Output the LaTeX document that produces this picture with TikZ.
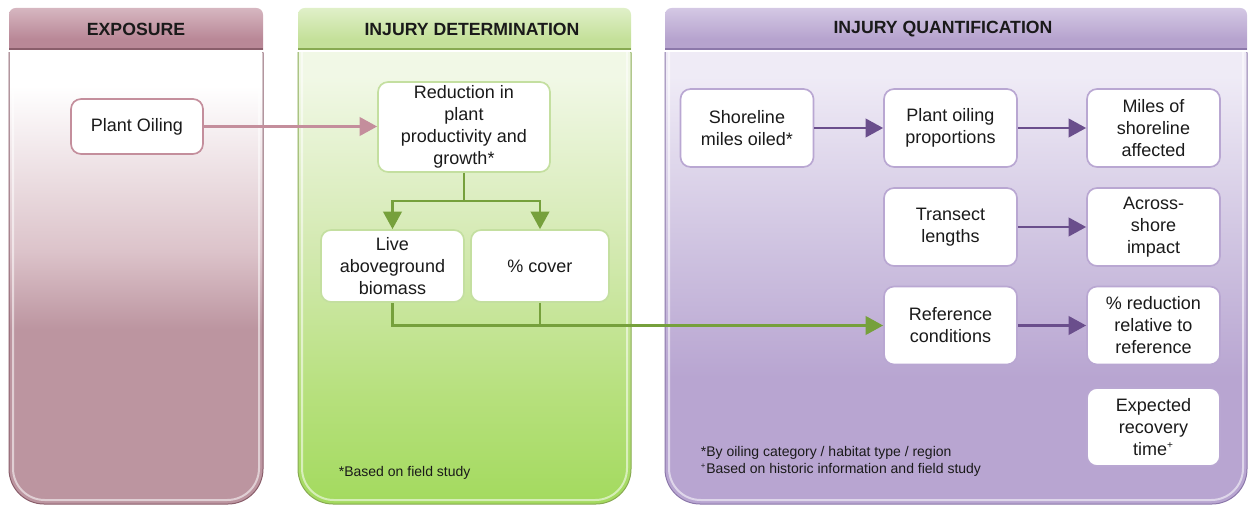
\documentclass[tikz,border=0pt]{standalone}
\usepackage{fontspec}
\setmainfont{Liberation Sans}
\usetikzlibrary{arrows.meta}
% colours
\definecolor{exHead}{HTML}{B98897}
\definecolor{exHeadTop}{HTML}{D6B6C0}
\definecolor{exEdge}{HTML}{8A5E6B}
\definecolor{exBot}{HTML}{BC95A0}
\definecolor{exMid}{HTML}{DCC3CA}
\definecolor{exLine}{HTML}{C48E9C}
\definecolor{gnHead}{HTML}{C4E09A}
\definecolor{gnHeadTop}{HTML}{E0F0C8}
\definecolor{gnEdge}{HTML}{88AA52}
\definecolor{gnTop}{HTML}{F1F8E6}
\definecolor{gnMid}{HTML}{D3E9B0}
\definecolor{gnLow}{HTML}{B6E07C}
\definecolor{gnBot}{HTML}{A3DA5E}
\definecolor{gnBox}{HTML}{C4DFA0}
\definecolor{gnArrow}{HTML}{76A03C}
\definecolor{puHead}{HTML}{B6A3CE}
\definecolor{puHeadTop}{HTML}{D4C8E4}
\definecolor{puEdge}{HTML}{8C78AA}
\definecolor{puTop}{HTML}{EFEBF6}
\definecolor{puMid}{HTML}{CEC2E0}
\definecolor{puBot}{HTML}{B8A5D1}
\definecolor{puBox}{HTML}{B9A7D2}
\definecolor{puArrow}{HTML}{6A4E8C}
\definecolor{txt}{HTML}{1A1A1A}
\pgfdeclareverticalshading{exshade}{100bp}{color(0bp)=(exBot); color(43bp)=(exBot); color(51bp)=(exMid); color(68bp)=(white); color(100bp)=(white)}
\pgfdeclareverticalshading{gnshade}{100bp}{color(0bp)=(gnBot); color(25bp)=(gnBot); color(36bp)=(gnLow); color(51bp)=(gnMid); color(69bp)=(gnTop); color(100bp)=(gnTop)}
\pgfdeclareverticalshading{pushade}{100bp}{color(0bp)=(puBot); color(38bp)=(puBot); color(51bp)=(puMid); color(69bp)=(puTop); color(100bp)=(puTop)}
\begin{document}
\begin{tikzpicture}[x=0.6pt,y=-0.6pt,
  box/.style={draw, fill=white, rounded corners=6pt, line width=1pt, align=center,
    inner sep=1pt, text=txt, font=\fontsize{10.8}{13.2}\selectfont},
  exbox/.style={box, draw=exLine},
  gnbox/.style={box, draw=gnBox},
  pubox/.style={box, draw=puBox, minimum width=79.8pt, minimum height=46.8pt},
  hdr/.style={text=txt, font=\bfseries\fontsize{10.6}{12}\selectfont},
  note/.style={anchor=west, align=left, text=txt, font=\fontsize{8.4}{10.2}\selectfont},
  conn/.style={line width=1.7pt},
  arr/.style={conn, -{Triangle[length=10.5pt,width=11pt]}},
  glint/.style={white, opacity=0.55, line width=1.2pt, rounded corners=19pt}
]
\useasboundingbox (0,0) rectangle (1250,505);

% ---------- panels ----------
% Exposure
\begin{scope}
  \clip (9,8) rectangle (263,50);
  \shade[top color=exHeadTop, bottom color=exHead, middle color=exHead, rounded corners=4pt] (9,8) rectangle (263,70);
\end{scope}
\draw[exEdge, line width=1.4pt] (9,48.8) -- (263,48.8);
\begin{scope}
  \clip (0,53) rectangle (1250,505);
  \shadedraw[shading=exshade, draw=exEdge, line width=0.6pt, rounded corners=21pt] (9,18) rectangle (263,504);
  \draw[glint] (13,18) rectangle (259,500);
\end{scope}
\node[hdr] (hex) at (136,29) {EXPOSURE};

% Injury determination
\begin{scope}
  \clip (298,8) rectangle (631,50);
  \shade[top color=gnHeadTop, bottom color=gnHead, middle color=gnHead, rounded corners=4pt] (298,8) rectangle (631,70);
\end{scope}
\draw[gnEdge, line width=1.4pt] (298,48.8) -- (631,48.8);
\begin{scope}
  \clip (0,53) rectangle (1250,505);
  \shadedraw[shading=gnshade, draw=gnEdge, line width=0.6pt, rounded corners=21pt] (298,18) rectangle (631,504);
  \draw[glint] (302,18) rectangle (627,500);
\end{scope}
\node[hdr] (hgn) at (472,29) {INJURY DETERMINATION};

% Injury quantification
\begin{scope}
  \clip (665,8) rectangle (1247,50);
  \shade[top color=puHeadTop, bottom color=puHead, middle color=puHead, rounded corners=4pt] (665,8) rectangle (1247,70);
\end{scope}
\draw[puEdge, line width=1.4pt] (665,48.8) -- (1247,48.8);
\begin{scope}
  \clip (0,53) rectangle (1250,505);
  \shadedraw[shading=pushade, draw=puEdge, line width=0.6pt, rounded corners=21pt] (665,18) rectangle (1247,504);
  \draw[glint] (669,18) rectangle (1243,500);
\end{scope}
\node[hdr] (hpu) at (943,29) {INJURY QUANTIFICATION};

% ---------- boxes ----------
\node[exbox, minimum width=79.2pt, minimum height=33pt] (oil) at (137,126.5) {Plant Oiling};

\node[gnbox, minimum width=103.2pt, minimum height=54pt] (red) at (464,127)
  {Reduction in\\plant\\productivity and\\growth*};
\node[gnbox, minimum width=85.8pt, minimum height=43.2pt] (live) at (392.5,266)
  {Live\\aboveground\\biomass};
\node[gnbox, minimum width=82.8pt, minimum height=43.2pt] (cover) at (540,266) {\% cover};

\node[pubox] (shore) at (747,128) {Shoreline\\miles oiled*};
\node[pubox] (prop) at (950.5,128) {Plant oiling\\proportions};
\node[pubox] (miles) at (1153.5,128) {Miles of\\shoreline\\affected};
\node[pubox] (trans) at (950.5,227) {Transect\\lengths};
\node[pubox] (across) at (1153.5,227) {Across-\\shore\\impact};
\node[pubox] (ref) at (950.5,325.5) {Reference\\conditions};
\node[pubox] (pct) at (1153.5,325.5) {\% reduction\\relative to\\reference};
\node[pubox] (exp) at (1153.5,427) {Expected\\recovery\\time\textsuperscript{\scalebox{0.8}{+}}};

% ---------- connectors ----------
\draw[arr, exLine] (oil.east) -- (oil.east -| red.west);

\draw[conn, gnArrow] (red.south) -- (red.south |- 0,201) coordinate (sp);
\draw[arr, gnArrow] (sp) -| (live.north);
\draw[arr, gnArrow] (sp) -| (cover.north);
\draw[arr, gnArrow] (live.south) |- (ref.west);
\draw[conn, gnArrow] (cover.south) -- (cover.south |- ref.west);

\draw[arr, puArrow] (shore) -- (prop);
\draw[arr, puArrow] (prop) -- (miles);
\draw[arr, puArrow] (trans) -- (across);
\draw[arr, puArrow] (ref) -- (pct);

% ---------- notes ----------
\node[note] (n1) at (333,473) {*Based on field study};
\node[note] (n2) at (695,453) {*By oiling category / habitat type / region};
\node[note] (n3) at (695,470) {\textsuperscript{\scalebox{0.8}{+}}Based on historic information and field study};
\end{tikzpicture}
\end{document}
